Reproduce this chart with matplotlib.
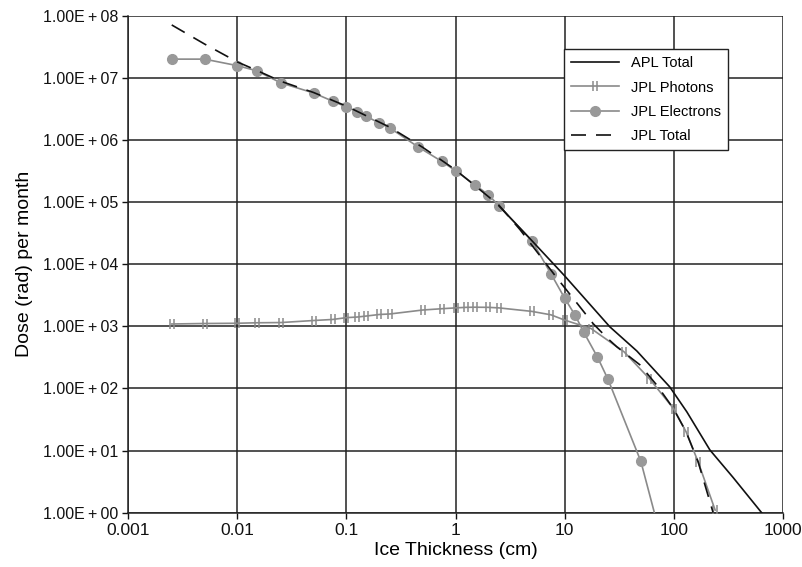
import matplotlib.pyplot as plt
from matplotlib.path import Path
from matplotlib.ticker import FixedLocator, NullLocator

plt.rcParams['font.family'] = ['Liberation Sans', 'DejaVu Sans']

# JPL electrons
elec_x = [0.0025, 0.005, 0.01, 0.015, 0.025, 0.05, 0.075, 0.1, 0.125, 0.15, 0.2, 0.25,
          0.45, 0.75, 1.0, 1.5, 2.0, 2.5, 5, 7.5, 10, 12.5, 15, 20, 25, 50, 75]
elec_y = [2.0e7, 2.0e7, 1.57e7, 1.3e7, 8.3e6, 5.7e6, 4.2e6, 3.4e6, 2.85e6, 2.43e6, 1.87e6, 1.56e6,
          7.8e5, 4.5e5, 3.2e5, 1.9e5, 1.31e5, 8.7e4, 2.4e4, 7.0e3, 2.85e3, 1.5e3, 8.0e2, 3.2e2, 1.4e2, 6.7, 0.45]

# JPL photons
phot_x = [0.0025, 0.005, 0.01, 0.015, 0.025, 0.05, 0.075, 0.1, 0.125, 0.15, 0.2, 0.25,
          0.5, 0.75, 1.0, 1.25, 1.5, 2.0, 2.5, 5, 7.5, 10, 17.5, 35, 60, 100, 130, 168, 240]
phot_y = [1.09e3, 1.11e3, 1.12e3, 1.14e3, 1.15e3, 1.24e3, 1.29e3, 1.38e3, 1.41e3, 1.46e3, 1.55e3, 1.58e3,
          1.83e3, 1.92e3, 1.98e3, 2.02e3, 2.03e3, 2.02e3, 1.98e3, 1.74e3, 1.53e3, 1.26e3, 9.2e2, 3.9e2,
          1.43e2, 47, 20, 6.5, 1.1]

# JPL total
jtot_x = [0.0025, 0.005, 0.01, 0.015, 0.025, 0.05, 0.1, 0.25, 0.5, 1.0, 2.5, 3.9, 8.5, 12.5,
          18.3, 25, 30, 49, 70, 99, 130, 168, 230]
jtot_y = [7.1e7, 3.5e7, 1.8e7, 1.32e7, 8.8e6, 5.8e6, 3.5e6, 1.6e6, 7.6e5, 3.3e5, 8.9e4, 3.6e4, 6.0e3, 2.57e3,
          1.1e3, 6.3e2, 4.7e2, 2.4e2, 1.13e2, 48, 20, 6.5, 1.0]

# APL total
apl_x = [2.5, 5, 10, 26, 46, 92, 132, 215, 350, 640]
apl_y = [8.7e4, 2.4e4, 6.5e3, 9.8e2, 4.0e2, 1.06e2, 42, 10.2, 3.7, 1.0]

xticks = [0.001, 0.01, 0.1, 1, 10, 100, 1000]
xlabels = ['0.001', '0.01', '0.1', '1', '10', '100', '1000']
yticks = [1e0, 1e1, 1e2, 1e3, 1e4, 1e5, 1e6, 1e7, 1e8]
ylabels = ['1.00E+00', '1.00E+01', '1.00E+02', '1.00E+03', '1.00E+04',
           '1.00E+05', '1.00E+06', '1.00E+07', '1.00E+08']

# double-bar marker used for the photon curve
bars = Path([(-0.45, -1), (-0.45, 1), (0.45, -1), (0.45, 1)],
            [Path.MOVETO, Path.LINETO, Path.MOVETO, Path.LINETO])

fig = plt.figure(figsize=(8.02, 5.67), dpi=100)
ax = fig.add_axes([0.16, 0.0958, 0.816, 0.8765])

gray = '#8a8a8a'
ax.plot(apl_x, apl_y, color='#111111', lw=1.2, label='APL Total', zorder=4)
ax.plot(phot_x, phot_y, color=gray, lw=1.2, marker=bars, markersize=7,
        markeredgewidth=1.1, markeredgecolor=gray, label='JPL Photons', zorder=3)
ax.plot(elec_x, elec_y, color=gray, lw=1.2, marker='o', markersize=7,
        markerfacecolor='#999999', markeredgecolor='#999999', label='JPL Electrons', zorder=3)
ax.plot(jtot_x, jtot_y, color='#111111', lw=1.2, dashes=(9, 6), label='JPL Total', zorder=4)

ax.set_xscale('log')
ax.set_yscale('log')
ax.set_xlim(0.001, 1000)
ax.set_ylim(1, 1e8)
ax.xaxis.set_major_locator(FixedLocator(xticks))
ax.yaxis.set_major_locator(FixedLocator(yticks))
ax.xaxis.set_minor_locator(NullLocator())
ax.yaxis.set_minor_locator(NullLocator())
ax.set_xticklabels(xlabels)
# Excel-style spacing around the plus sign
ax.set_yticklabels([s.replace('+', '\u2009+\u2009') for s in ylabels])
ax.tick_params(direction='out', length=4, width=1, colors='#111111')
ax.tick_params(axis='y', labelsize=11.5)
ax.tick_params(axis='x', labelsize=12.5)

ax.grid(True, color='#222222', lw=1.1)
for s in ['top', 'right']:
    ax.spines[s].set_visible(False)
for s in ['left', 'bottom']:
    ax.spines[s].set_color('#222222')
    ax.spines[s].set_linewidth(1.1)

ax.set_xlabel('Ice Thickness (cm)', fontsize=14, labelpad=3)
ax.set_ylabel('Dose (rad) per month', fontsize=14, labelpad=7)

leg = ax.legend(loc='upper right', bbox_to_anchor=(0.9164, 0.933), borderaxespad=0,
                fontsize=10.5, fancybox=False, framealpha=1, edgecolor='#222222',
                handlelength=3.3, borderpad=0.5, labelspacing=0.7)
leg.get_frame().set_linewidth(1.0)
leg.set_zorder(10)

fig.savefig('out.png', dpi=100)
